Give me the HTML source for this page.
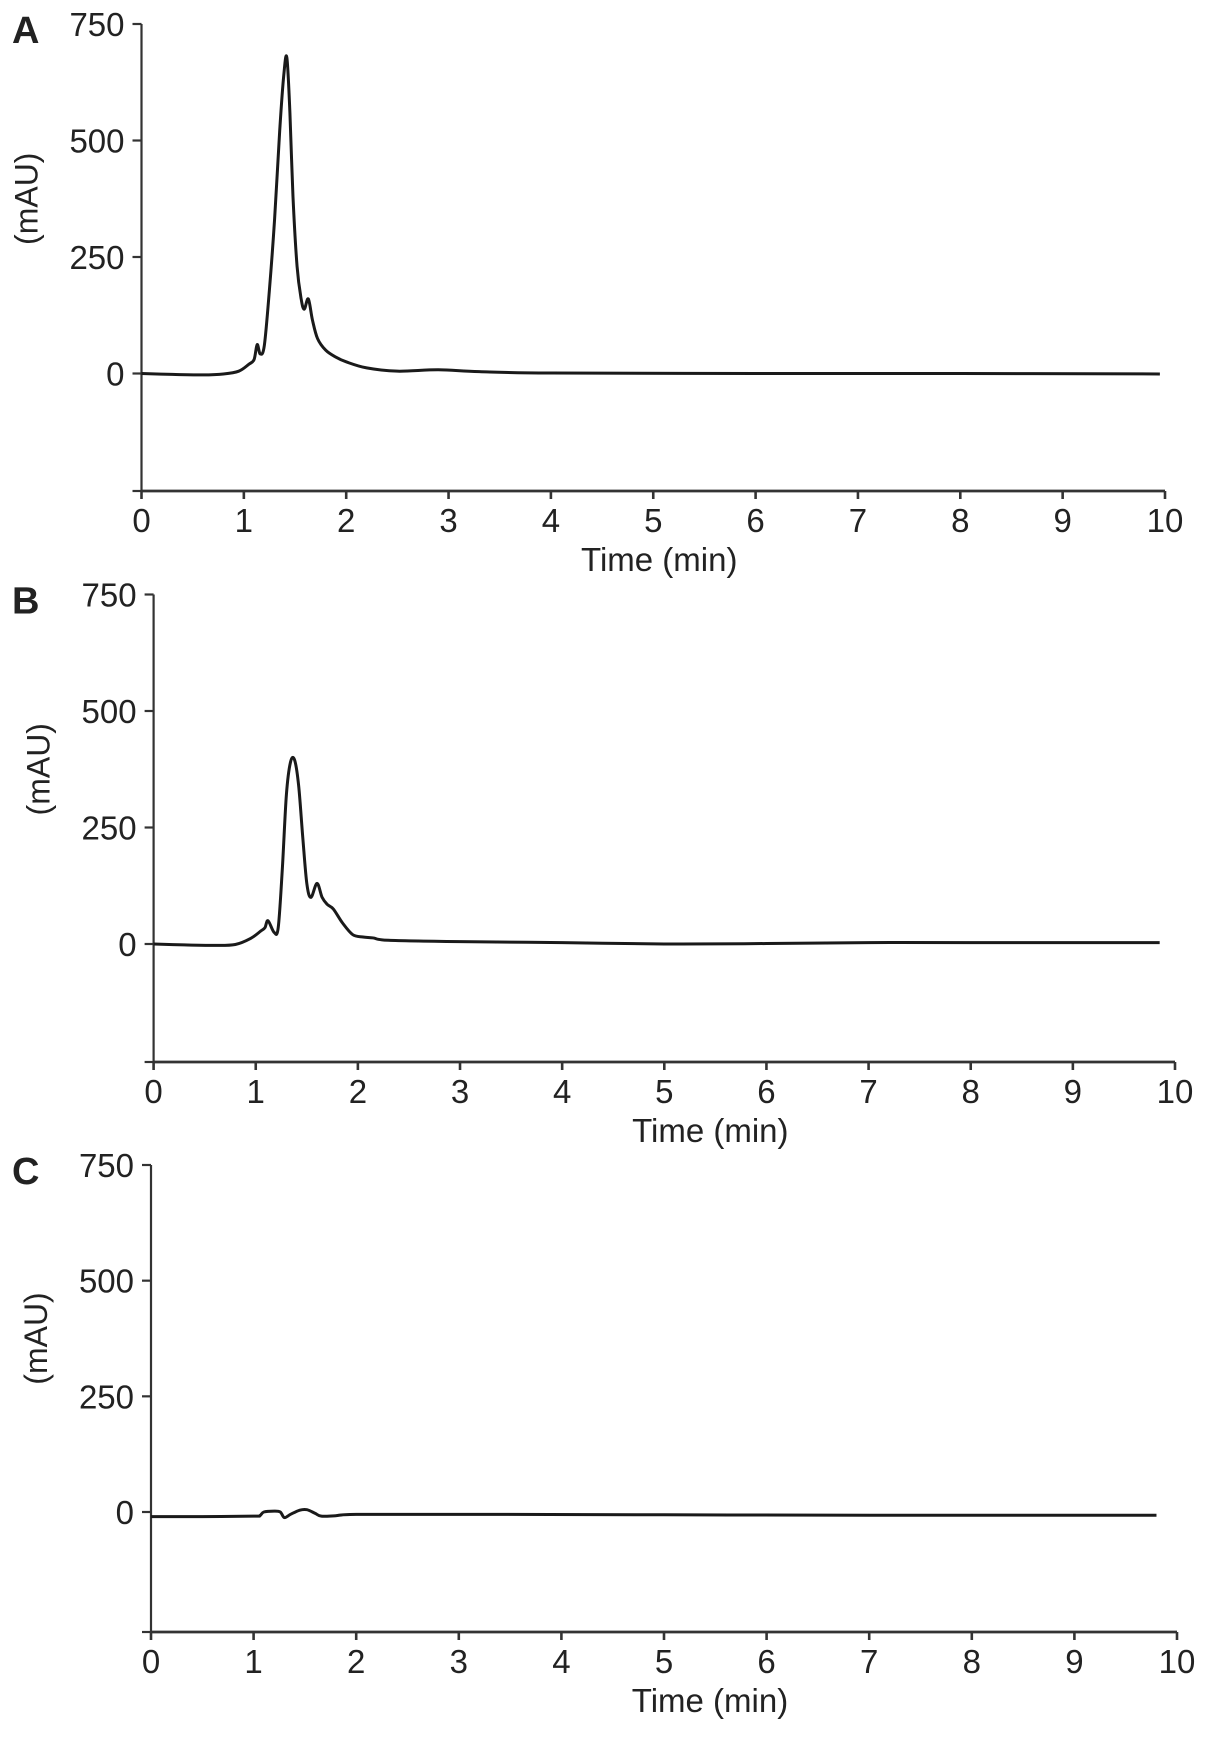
<!DOCTYPE html>
<html><head><meta charset="utf-8"><style>
html,body{margin:0;padding:0;background:#fff;}
svg text{font-family:"Liberation Sans",Arial,sans-serif;fill:#222;}
</style></head><body>
<svg id="fig" width="1205" height="1735" viewBox="0 0 1205 1735" xmlns="http://www.w3.org/2000/svg"></svg>
<script>
const xTicks = [0,1,2,3,4,5,6,7,8,9,10];
const yTicks = [750,500,250,0];
const panelLabels = ["A","B","C"];
const timeA = [0,0.3,0.6,0.8,0.95,1.05,1.1,1.13,1.16,1.2,1.25,1.3,1.35,1.39,1.42,1.45,1.48,1.52,1.56,1.59,1.63,1.67,1.72,1.8,1.9,2.0,2.2,2.5,2.9,3.3,4,6,8,9.95];
const valuesA = [0,-2,-3,-1,5,20,30,62,42,60,180,330,520,640,678,560,380,230,160,138,160,115,75,50,35,25,12,5,8,4,1,0,0,-1];
const timeB = [0,0.3,0.6,0.8,0.95,1.05,1.09,1.12,1.18,1.22,1.26,1.3,1.34,1.38,1.42,1.46,1.5,1.54,1.6,1.65,1.7,1.76,1.85,1.95,2.05,2.15,2.3,3,4,5,6,7,8,9.85];
const valuesB = [0,-2,-3,-1,12,28,35,50,25,35,160,320,390,395,340,230,130,100,130,100,85,75,45,20,15,13,8,5,3,0,1,3,3,3];
const timeC = [0,0.5,1.0,1.06,1.1,1.2,1.26,1.3,1.36,1.45,1.52,1.6,1.66,1.8,2.0,3,5,7,9.8];
const valuesC = [-10,-10,-9,-8,0,2,0,-12,-5,4,5,-3,-9,-8,-5,-5,-6,-7,-7];

const panels = [
  {label:"A", x0:141.5, x10:1165, y750:24, y0:373.5, yb:491, t:timeA, v:valuesA, tx:6},
  {label:"B", x0:153.6, x10:1175, y750:594.5, y0:944, yb:1062, t:timeB, v:valuesB, tx:46},
  {label:"C", x0:151, x10:1177, y750:1165, y0:1512, yb:1632, t:timeC, v:valuesC, tx:46}
];
const NS="http://www.w3.org/2000/svg";
const svg=document.getElementById('fig');
function mk(tag,attrs,parent){const e=document.createElementNS(NS,tag);for(const k in attrs)e.setAttribute(k,attrs[k]);(parent||svg).appendChild(e);return e;}
panels.forEach((p,i)=>{
  const g=mk('g',{});
  
  
  const xs=t=>p.x0+(p.x10-p.x0)*t/10;
  const ys=v=>p.y0+(p.y750-p.y0)*v/750;
  const pl=mk('text',{x:12,y:p.y750+19,'font-size':38,'font-weight':'bold'},g);
  pl.textContent=panelLabels[i];
  
  
  const ya=mk('line',{x1:p.x0,y1:p.y750,x2:p.x0,y2:p.yb,stroke:'#333','stroke-width':2.2},g);
  
  
  yTicks.forEach(v=>{
    mk('line',{x1:p.x0-9,y1:ys(v),x2:p.x0,y2:ys(v),stroke:'#333','stroke-width':2.2},g);
    const tl=mk('text',{x:p.x0-17,y:ys(v)+12,'font-size':33,'text-anchor':'end'},g);
    tl.textContent=v;
    
    
  });
  mk('line',{x1:p.x0-9,y1:p.yb,x2:p.x0,y2:p.yb,stroke:'#333','stroke-width':2.2},g);
  const yt=mk('text',{x:0,y:0,'font-size':32,'text-anchor':'middle',transform:`translate(${p.x0-104},${ys(375)}) rotate(-90)`},g);
  yt.textContent='(mAU)';
  
  
  const xa=mk('line',{x1:p.x0,y1:p.yb,x2:p.x10,y2:p.yb,stroke:'#333','stroke-width':2.8},g);
  
  
  xTicks.forEach(t=>{
    mk('line',{x1:xs(t),y1:p.yb,x2:xs(t),y2:p.yb+8,stroke:'#333','stroke-width':2.6},g);
    const tl=mk('text',{x:xs(t),y:p.yb+41,'font-size':33,'text-anchor':'middle'},g);
    tl.textContent=t;
    
    
  });
  const xt=mk('text',{x:(p.x0+p.x10)/2+p.tx,y:p.yb+80,'font-size':33,'text-anchor':'middle'},g);
  xt.textContent='Time (min)';
  
  
  const pts=p.t.map((t,k)=>[xs(t),ys(p.v[k])]);
  let d='M'+pts[0][0]+','+pts[0][1];
  for(let k=0;k<pts.length-1;k++){
    const p0=pts[k-1]||pts[k],p1=pts[k],p2=pts[k+1],p3=pts[k+2]||p2;
    const c1=[p1[0]+(p2[0]-p0[0])/6,p1[1]+(p2[1]-p0[1])/6];
    const c2=[p2[0]-(p3[0]-p1[0])/6,p2[1]-(p3[1]-p1[1])/6];
    d+=` C${c1[0]},${c1[1]} ${c2[0]},${c2[1]} ${p2[0]},${p2[1]}`;
  }
  const tr=mk('path',{d:d,fill:'none',stroke:'#1a1a1a','stroke-width':3,'stroke-linejoin':'round'},g);
  
  
});
</script>
</body></html>
